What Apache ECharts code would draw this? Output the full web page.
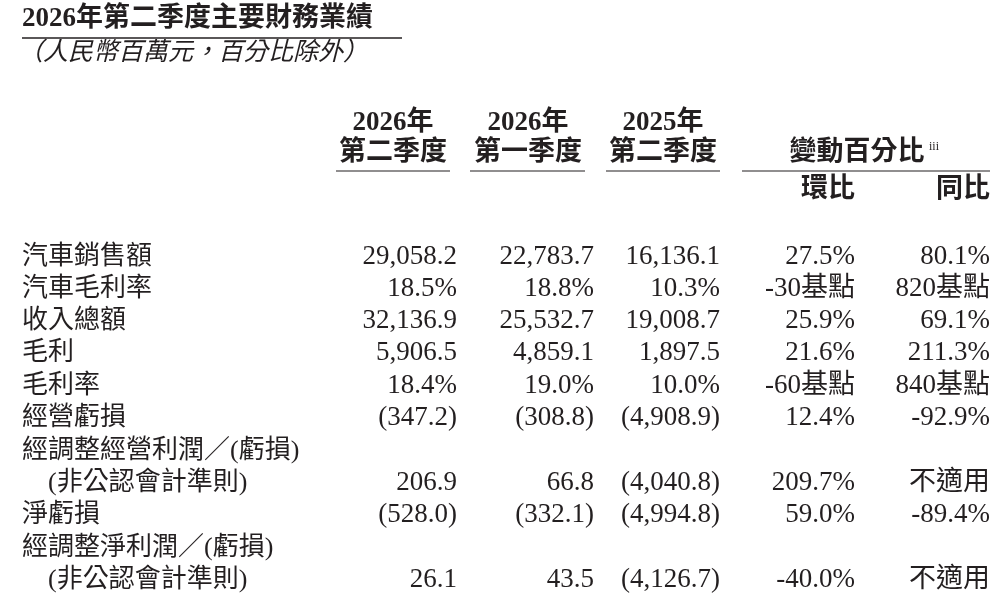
<!DOCTYPE html><html><head><meta charset="utf-8"><script src="https://cdn.jsdelivr.net/npm/echarts@6/dist/echarts.min.js"></script>
<style>html,body{margin:0;background:#fff}#c{width:1000px;height:605px}</style></head><body><div id="c"></div><script>
const title='2026年第二季度主要財務業績';
const subtitle='（人民幣百萬元，百分比除外）';
const colHead1=['2026年','2026年','2025年'];
const colHead2=['第二季度','第一季度','第二季度'];
const changeHead='變動百分比';
const subHeads=['環比','同比'];
const labels=['汽車銷售額','汽車毛利率','收入總額','毛利','毛利率','經營虧損','經調整經營利潤／(虧損)','　(非公認會計準則)','淨虧損','經調整淨利潤／(虧損)','　(非公認會計準則)'];
const q2_2026=['29,058.2','18.5%','32,136.9','5,906.5','18.4%','(347.2)','','206.9','(528.0)','','26.1'];
const q1_2026=['22,783.7','18.8%','25,532.7','4,859.1','19.0%','(308.8)','','66.8','(332.1)','','43.5'];
const q2_2025=['16,136.1','10.3%','19,008.7','1,897.5','10.0%','(4,908.9)','','(4,040.8)','(4,994.8)','','(4,126.7)'];
const qoq=['27.5%','-30基點','25.9%','21.6%','-60基點','12.4%','','209.7%','59.0%','','-40.0%'];
const yoy=['80.1%','820基點','69.1%','211.3%','840基點','-92.9%','','不適用','-89.4%','','不適用'];
const rowY=[257,289,321,353,386,418,451,483,515,548,580];
const colR=[457,594,720,855,990];
const F='"Liberation Serif","Noto Sans CJK TC",serif';
const g=[];
function t(x,y,s,o){g.push(Object.assign({type:'text',x:x,y:y,style:Object.assign({text:s,fill:'#231f20',font:'26px '+F,textVerticalAlign:'middle'},o||{})}));}
function ln(x1,x2,y,w){g.push({type:'line',shape:{x1:x1,y1:y,x2:x2,y2:y},style:{stroke:'#231f20',lineWidth:w||1.2}});}
t(22,19,title,{font:'bold 27px '+F});ln(22,402,38,1.5);
t(18,53,subtitle,{font:'italic 25px '+F});
const hc=[393,528,663];
colHead1.forEach((s,i)=>{t(hc[i],123,s,{font:'bold 27px '+F,textAlign:'center'});t(hc[i],153,colHead2[i],{font:'bold 27px '+F,textAlign:'center'});});
ln(336,450,171);ln(470,585,171);ln(606,720,171);ln(742,990,171);
t(857,153,changeHead,{font:'bold 27px '+F,textAlign:'center'});
t(929,147,'iii',{font:'12px '+F});
t(855,190,subHeads[0],{font:'bold 27px '+F,textAlign:'right'});
t(990,190,subHeads[1],{font:'bold 27px '+F,textAlign:'right'});
const cols=[q2_2026,q1_2026,q2_2025,qoq,yoy];
labels.forEach((l,i)=>{t(22,rowY[i],l);cols.forEach((c,j)=>{if(c[i])t(colR[j],rowY[i],c[i],{textAlign:'right',font:'27px '+F});});});
const ch=echarts.init(document.getElementById('c'));
ch.setOption({animation:false,graphic:{elements:g}});
</script></body></html>
